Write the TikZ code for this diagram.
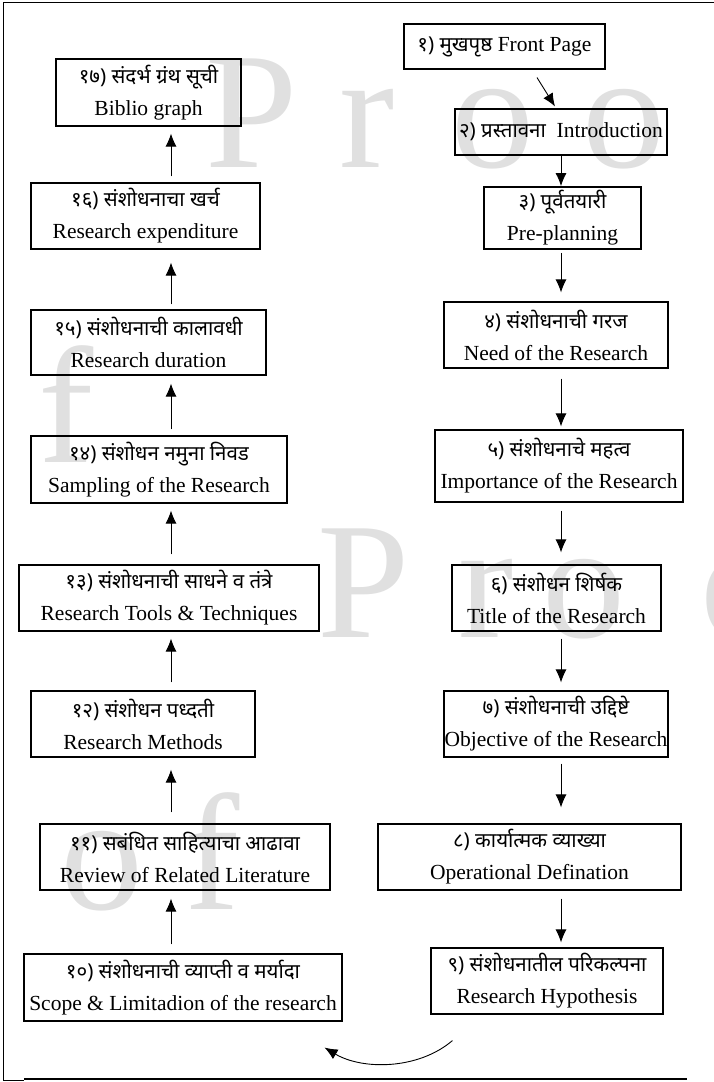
\documentclass[tikz,border=0pt]{standalone}
\usepackage{fontspec}
\setmainfont{Liberation Serif}
\newfontfamily\deva[Script=Devanagari]{Noto Sans}
\usetikzlibrary{arrows.meta}
\tikzset{
    tnode/.style = {align=center, inner sep=0pt, text centered},
    step_box/.style = {tnode, rectangle, draw=black, line width=1.1pt, font=\fontsize{21.5}{32}\selectfont},
    wm_letter/.style = {inner sep=0pt, anchor=base west, text=black!12, font=\fontsize{166}{166}\selectfont},
    flow/.style = {->, line width=0.9pt}
}
\newcommand{\mr}[1]{{\deva\fontsize{20.5}{32}\selectfont #1}}

\begin{document}
\begin{tikzpicture}
    [x=1pt, y=-1pt, >={Latex[length=13pt,width=11pt]}]

    \useasboundingbox (0,0) rectangle (714,1082);

    % watermark
    \node[wm_letter] (wp1) at (205,167) {P};
    \node[wm_letter] (wr1) at (339,167) {r};
    \node[wm_letter] (wo1) at (451,167) {o};
    \node[wm_letter] (wo2) at (582,167) {o};
    \node[wm_letter] (wf1) at (38,462) {f};
    \node[wm_letter] (wp2) at (317,637) {P};
    \node[wm_letter] (wr2) at (458,637) {r};
    \node[wm_letter] (wo3) at (542,637) {o};
    \node[wm_letter] (wo4) at (700,637) {o};
    \node[wm_letter] (wo5) at (60,909) {o};
    \node[wm_letter] (wf2) at (184,909) {f};

    % page frame
    \draw[line width=0.9pt] (714,2) -- (3,2) -- (3,1080) -- (24,1080);
    \draw[line width=1.6pt] (24,1079) -- (687,1079);

    % right column
    \node[step_box, minimum width=201pt, minimum height=45pt] (b1) at (504.5,46.5) {\mr{१)\ मुखपृष्ठ} Front Page};
    \node[step_box, minimum width=212pt, minimum height=46pt] (b2) at (561,132) {\mr{२)\ प्रस्तावना}\ \ Introduction};
    \node[step_box, line width=1.8pt, minimum width=157pt, minimum height=62pt] (b3) at (562.5,218) {\mr{३) पूर्वतयारी}\\ Pre-planning};
    \node[step_box, minimum width=224pt, minimum height=66pt] (b4) at (556,335) {\mr{४) संशोधनाची गरज}\\ Need of the Research};
    \node[step_box, minimum width=248pt, minimum height=72pt] (b5) at (559,466) {\mr{५) संशोधनाचे महत्व}\\ Importance of the Research};
    \node[step_box, minimum width=209pt, minimum height=66pt] (b6) at (556.5,598) {\mr{६) संशोधन शिर्षक}\\ Title of the Research};
    \node[step_box, minimum width=224pt, minimum height=66pt] (b7) at (556,724) {\mr{७) संशोधनाची उद्दिष्टे}\\ Objective of the Research};
    \node[step_box, minimum width=303pt, minimum height=66pt] (b8) at (529.5,857) {\mr{८) कार्यात्मक व्याख्या}\\ Operational Defination};
    \node[step_box, minimum width=232pt, minimum height=66pt] (b9) at (547,981) {\mr{९) संशोधनातील परिकल्पना}\\ Research Hypothesis};

    % left column
    \node[step_box, minimum width=318pt, minimum height=67pt] (b10) at (183,987.5) {\mr{१०) संशोधनाची व्याप्ती व मर्यादा}\\ Scope \& Limitadion of the research};
    \node[step_box, minimum width=290pt, minimum height=66pt] (b11) at (185,857) {\mr{११) सबंधित साहित्याचा आढावा}\\ Review of Related Literature};
    \node[step_box, minimum width=224pt, minimum height=66pt] (b12) at (143,724) {\mr{१२) संशोधन पध्दती}\\ Research Methods};
    \node[step_box, minimum width=300pt, minimum height=66pt] (b13) at (169,598) {\mr{१३) संशोधनाची साधने व तंत्रे}\\ Research Tools \& Techniques};
    \node[step_box, minimum width=256pt, minimum height=67pt] (b14) at (159,469.5) {\mr{१४) संशोधन नमुना निवड}\\ Sampling of the Research};
    \node[step_box, minimum width=235pt, minimum height=65pt] (b15) at (148.5,342.5) {\mr{१५) संशोधनाची कालावधी}\\ Research duration};
    \node[step_box, minimum width=229pt, minimum height=66pt] (b16) at (145.5,216) {\mr{१६) संशोधनाचा खर्च}\\ Research expenditure};
    \node[step_box, minimum width=185pt, minimum height=67pt] (b17) at (148.5,92.5) {\mr{१७) संदर्भ ग्रंथ सूची}\\ Biblio graph};

    % arrow columns
    \coordinate (rx) at (561,0);
    \coordinate (lx) at (171,0);

    \draw[flow] ([xshift=32.5pt,yshift=-8pt]b1.south) -- ([xshift=-6pt,yshift=2pt]b2.north);
    \draw[flow] (b2.south -| rx) -- (b3.north -| rx);
    \draw[flow, shorten <=3pt, shorten >=9pt] (b3.south -| rx) -- (b4.north -| rx);
    \draw[flow, shorten <=10pt, shorten >=3pt] (b4.south -| rx) -- (b5.north -| rx);
    \draw[flow, shorten <=8pt, shorten >=12pt] (b5.south -| rx) -- (b6.north -| rx);
    \draw[flow, shorten <=7pt, shorten >=8pt] (b6.south -| rx) -- (b7.north -| rx);
    \draw[flow, shorten <=6pt, shorten >=16pt] (b7.south -| rx) -- (b8.north -| rx);
    \draw[flow, shorten <=8pt, shorten >=5pt] (b8.south -| rx) -- (b9.north -| rx);

    \coordinate (cv_a) at ([xshift=22pt,yshift=-26pt]b9.south west);
    \coordinate (cv_b) at ([xshift=-18pt,yshift=-26pt]b10.south east);
    \draw[flow] (cv_a) .. controls (418,1070) and (362,1070) .. (cv_b);

    \draw[flow, shorten <=9pt, shorten >=8pt] (b10.north -| lx) -- (b11.south -| lx);
    \draw[flow, shorten <=11pt, shorten >=12pt] (b11.north -| lx) -- (b12.south -| lx);
    \draw[flow, shorten <=8pt, shorten >=7pt] (b12.north -| lx) -- (b13.south -| lx);
    \draw[flow, shorten <=10pt, shorten >=7pt] (b13.north -| lx) -- (b14.south -| lx);
    \draw[flow, shorten <=6pt, shorten >=8pt] (b14.north -| lx) -- (b15.south -| lx);
    \draw[flow, shorten <=5pt, shorten >=13pt] (b15.north -| lx) -- (b16.south -| lx);
    \draw[flow, shorten <=6pt, shorten >=7pt] (b16.north -| lx) -- (b17.south -| lx);
\end{tikzpicture}
\end{document}
